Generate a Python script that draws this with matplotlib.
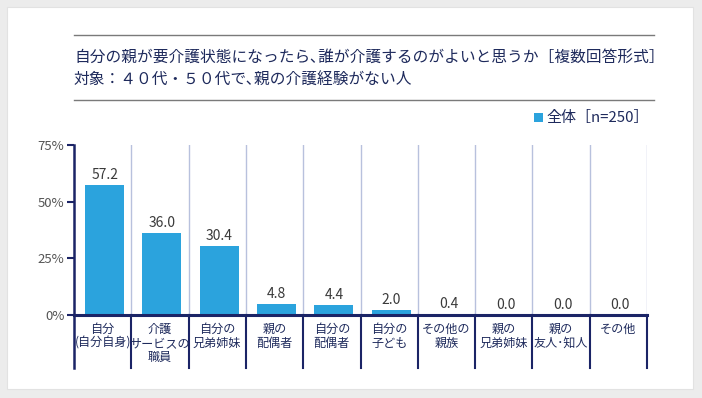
import matplotlib
matplotlib.use("Agg")
import matplotlib.pyplot as plt
from matplotlib.patches import Rectangle

plt.rcParams['font.family'] = ['Noto Sans CJK JP', 'DejaVu Sans']

# data
categories = ["自分\n(自分自身)", "介護\nサービスの\n職員", "自分の\n兄弟姉妹", "親の\n配偶者",
              "自分の\n配偶者", "自分の\n子ども", "その他の\n親族", "親の\n兄弟姉妹",
              "親の\n友人･知人", "その他"]
values = [57.2, 36.0, 30.4, 4.8, 4.4, 2.0, 0.4, 0.0, 0.0, 0.0]
yticks = [0, 25, 50, 75]
title = "自分の親が要介護状態になったら､誰が介護するのがよいと思うか［複数回答形式］"
subtitle = "対象：４０代・５０代で､親の介護経験がない人"
legend_label = "全体［n=250］"

W, H = 702, 398
navy = "#1b2466"
bar_color = "#2ba3dd"
text_navy = "#1e2a5c"

fig = plt.figure(figsize=(W / 100, H / 100), dpi=100, facecolor="#ececec")


def fx(px):
    return px / W


def fy(py):
    return 1 - py / H


# white card
card = Rectangle((fx(7), fy(389)), fx(686), (389 - 7) / H,
                 transform=fig.transFigure, facecolor="white",
                 edgecolor="#e2e2e2", lw=0.8, zorder=-10)
fig.patches.append(card)

# title block
for yy in (35, 100):
    fig.add_artist(plt.Line2D([fx(74), fx(654)], [fy(yy), fy(yy)],
                              transform=fig.transFigure, color="#7a7a7a", lw=1))
fig.text(fx(74), fy(57), title, fontsize=11.3, color=text_navy, va="center", ha="left")
fig.text(fx(74), fy(80), subtitle, fontsize=11.3, color=text_navy, va="center", ha="left")

# legend
fig.patches.append(Rectangle((fx(534), fy(122)), fx(9), 9 / H,
                             transform=fig.transFigure, facecolor=bar_color, lw=0))
fig.text(fx(546), fy(118), legend_label, fontsize=10.8, color=text_navy,
         va="center", ha="left")

# chart
ax = fig.add_axes([fx(74), fy(315), fx(647 - 74), 170 / H])
ax.set_zorder(5)
ax.set_facecolor("none")
n = len(categories)
xs = [i + 0.5 + 0.035 for i in range(n)]
ax.bar(xs, values, width=0.68, color=bar_color, zorder=2)
for x, v in zip(xs, values):
    ax.text(x, v + 1.5, f"{v:.1f}", ha="center", va="bottom", fontsize=10,
            color="#3a3a3a")

ax.set_xlim(0, n)
ax.set_ylim(0, 75)
ax.set_yticks(yticks)
ax.set_yticklabels([f"{t}%" for t in yticks], fontsize=9.5, color="#555555")
ax.set_xticks([])
ax.tick_params(axis="y", length=5, width=1.5, color=navy, pad=2)

for s in ("top", "right"):
    ax.spines[s].set_visible(False)
ax.spines["left"].set_color(navy)
ax.spines["left"].set_linewidth(1.8)
ax.spines["bottom"].set_color(navy)
ax.spines["bottom"].set_linewidth(2.2)
ax.spines["bottom"].set_zorder(3)

trans = ax.get_xaxis_transform()
below = -53 / 170
for i in range(n + 1):
    if i > 0:
        ax.plot([i, i], [0, 1], transform=trans, color="#b8c1dd", lw=1, zorder=1)
    ax.plot([i, i], [below, 0], transform=trans, color=navy, lw=1.5 if i else 1.8,
            clip_on=False, zorder=3)

for i, lab in enumerate(categories):
    ax.text(i + 0.5, -8 / 170, lab, transform=trans, ha="center", va="top",
            fontsize=8.7, color=text_navy, linespacing=1.1)

fig.savefig("out.png", dpi=100, facecolor=fig.get_facecolor())
